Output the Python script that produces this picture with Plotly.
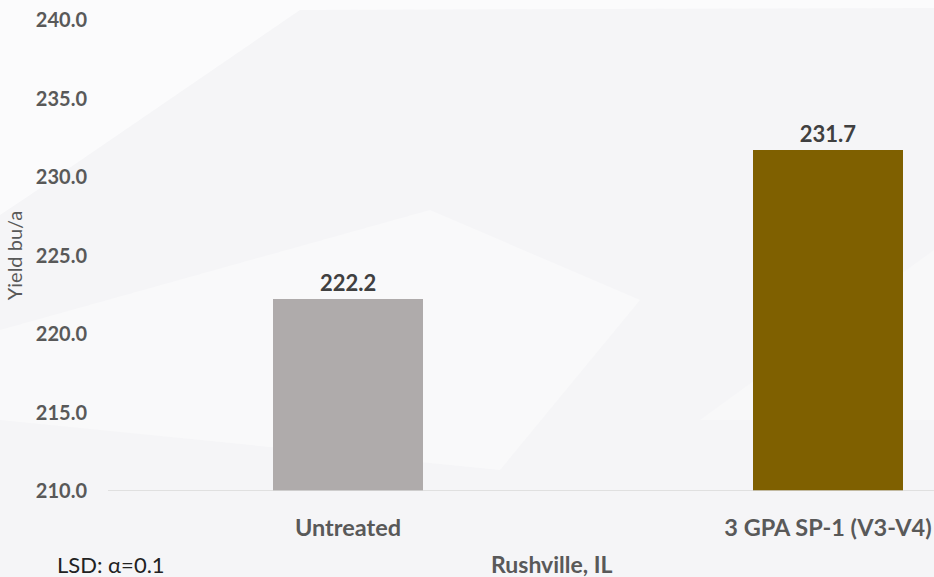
import plotly.graph_objects as go

categories = ["Untreated", "3 GPA SP-1 (V3-V4)"]
yields = [222.2, 231.7]
bar_colors = ["#AFABAB", "#7F6000"]
y_ticks = [210, 215, 220, 225, 230, 235, 240]
y_tick_labels = ["210.0", "215.0", "220.0", "225.0", "230.0", "235.0", "240.0"]

W, H = 934, 577
L, R, T, B = 108, 0, 20, 86
pw, ph = W - L - R, H - T - B

def px(x, y):
    return (x - L) / pw, (H - B - y) / ph

def path(pts):
    s = ""
    for i, (x, y) in enumerate(pts):
        a, b = px(x, y)
        s += ("M" if i == 0 else "L") + f"{a:.4f},{b:.4f} "
    return s + "Z"

fig = go.Figure()
fig.add_trace(go.Bar(
    x=[0, 1], y=[v - 210 for v in yields], base=210,
    marker=dict(color=bar_colors, line=dict(width=0)),
    width=0.3125,
    text=[f"{v:.1f}" for v in yields], textposition="outside",
    textfont=dict(family="Lato", size=22, color="#404040", weight="bold"),
    cliponaxis=False, hoverinfo="skip",
))

shapes = [
    dict(type="path", xref="paper", yref="paper", layer="below",
         path=path([(0, 0), (934, 0), (934, 8), (300, 10), (30, 195), (0, 215)]),
         fillcolor="#fbfbfc", line=dict(width=0)),
    dict(type="path", xref="paper", yref="paper", layer="below",
         path=path([(0, 330), (430, 210), (640, 300), (500, 470), (0, 420)]),
         fillcolor="#f9f9fa", line=dict(width=0)),
    dict(type="path", xref="paper", yref="paper", layer="below",
         path=path([(934, 250), (934, 420), (700, 420)]),
         fillcolor="#f8f8f9", line=dict(width=0)),
    dict(type="line", xref="paper", yref="y", x0=0, x1=1, y0=210, y1=210,
         line=dict(color="#D9D9D9", width=1.5), layer="above"),
]

fig.update_layout(
    width=W, height=H,
    margin=dict(l=L, r=R, t=T, b=B),
    paper_bgcolor="#f5f5f7", plot_bgcolor="rgba(0,0,0,0)",
    showlegend=False, bargap=0,
    shapes=shapes,
    xaxis=dict(
        range=[-0.5, -0.5 + pw / 480], tickvals=[0, 1], ticktext=categories,
        showgrid=False, zeroline=False, showline=False, ticks="",
        tickfont=dict(family="Lato", size=23.5, color="#595959", weight="bold"),
        ticklabelstandoff=20, fixedrange=True,
    ),
    yaxis=dict(
        range=[210, 240], tickvals=y_ticks, ticktext=y_tick_labels,
        showgrid=False, zeroline=False, showline=False, ticks="",
        tickfont=dict(family="Lato", size=20, color="#595959", weight="bold"),
        ticklabelstandoff=20,
        title=dict(text="Yield bu/a", font=dict(family="Lato", size=20, color="#595959"), standoff=7),
    ),
    annotations=[
        dict(text="Rushville, IL", xref="paper", yref="paper", x=(552 - L) / pw, y=(H - B - 564) / ph,
             showarrow=False, xanchor="center", yanchor="middle",
             font=dict(family="Lato", size=23, color="#595959", weight="bold")),
        dict(text="LSD: α=0.1", xref="paper", yref="paper", x=(111 - L) / pw, y=(H - B - 564) / ph,
             showarrow=False, xanchor="center", yanchor="middle",
             font=dict(family="Lato", size=22, color="#222222")),
    ],
)

fig.write_html("out.html", config={"displayModeBar": False},
               post_script="document.body.style.margin='0';document.body.style.padding='0';document.body.style.overflow='hidden';")
